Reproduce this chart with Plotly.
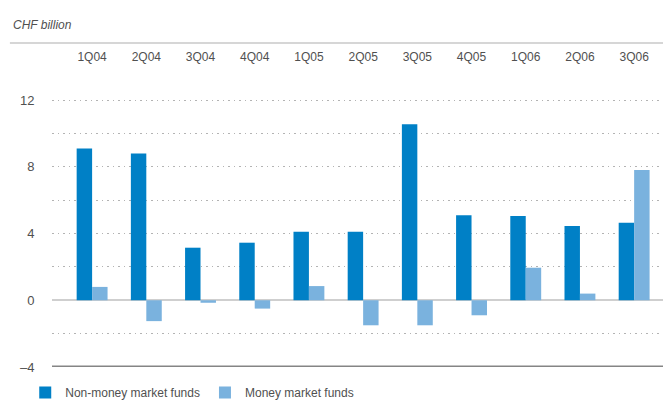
import plotly.graph_objects as go

categories = ["1Q04", "2Q04", "3Q04", "4Q04", "1Q05", "2Q05", "3Q05", "4Q05", "1Q06", "2Q06", "3Q06"]
non_money = [9.1, 8.8, 3.15, 3.45, 4.1, 4.1, 10.55, 5.1, 5.05, 4.45, 4.65]
money = [0.8, -1.25, -0.15, -0.5, 0.85, -1.5, -1.5, -0.9, 1.95, 0.4, 7.8]
y_ticks = [-4, -2, 0, 2, 4, 6, 8, 10, 12]
y_labels = ["–4", "", "0", "", "4", "", "8", "", "12"]

FONT = "Liberation Sans, Arial, sans-serif"
TXT = "#505050"

fig = go.Figure()
fig.add_trace(go.Bar(x=categories, y=non_money, name="Non-money market funds",
                     marker=dict(color="#0080c6", line=dict(width=0))))
fig.add_trace(go.Bar(x=categories, y=money, name="Money market funds",
                     marker=dict(color="#7ab2de", line=dict(width=0))))

fig.update_layout(
    width=663, height=394,
    margin=dict(l=44, r=0, t=56, b=35, autoexpand=False),
    paper_bgcolor="white", plot_bgcolor="white",
    barmode="group", bargap=0.43, bargroupgap=0,
    font=dict(family=FONT, size=12, color=TXT),
    showlegend=True,
    legend=dict(orientation="h", x=0.026, xref="container", xanchor="left",
                y=0.024, yref="container", yanchor="middle",
                font=dict(size=12, color=TXT), traceorder="normal",
                itemwidth=30, bgcolor="rgba(0,0,0,0)"),
    xaxis=dict(side="top", type="category", range=[-0.74, 10.68],
               showgrid=False, showline=False, ticks="", zeroline=False,
               tickfont=dict(size=12, color=TXT), fixedrange=True, automargin=False),
    yaxis=dict(range=[-4, 14.16], tickvals=y_ticks, ticktext=y_labels,
               showgrid=True, gridcolor="#b3b3b3", griddash="1.5px,4px", gridwidth=1.2,
               zeroline=True, zerolinecolor="#cfcfcf", zerolinewidth=1.5,
               showline=False, ticks="outside", ticklen=14, tickcolor="white",
               tickfont=dict(size=13, color=TXT), fixedrange=True, automargin=False),
)

# heavy baseline at -4
fig.add_shape(type="line", xref="paper", yref="y", x0=0, x1=1, y0=-4, y1=-4,
              line=dict(color="#858585", width=3))
# top rule
fig.add_shape(type="line", xref="paper", yref="paper", x0=-0.068, x1=1,
              y0=1.0694, y1=1.0694, line=dict(color="#d6d6d6", width=2))

fig.add_annotation(text="<i>CHF billion</i>", xref="paper", yref="paper",
                   x=-0.066, y=1.129, xanchor="left", yanchor="middle",
                   showarrow=False, font=dict(size=12, color=TXT, family=FONT))

fig.write_html("out.html")
